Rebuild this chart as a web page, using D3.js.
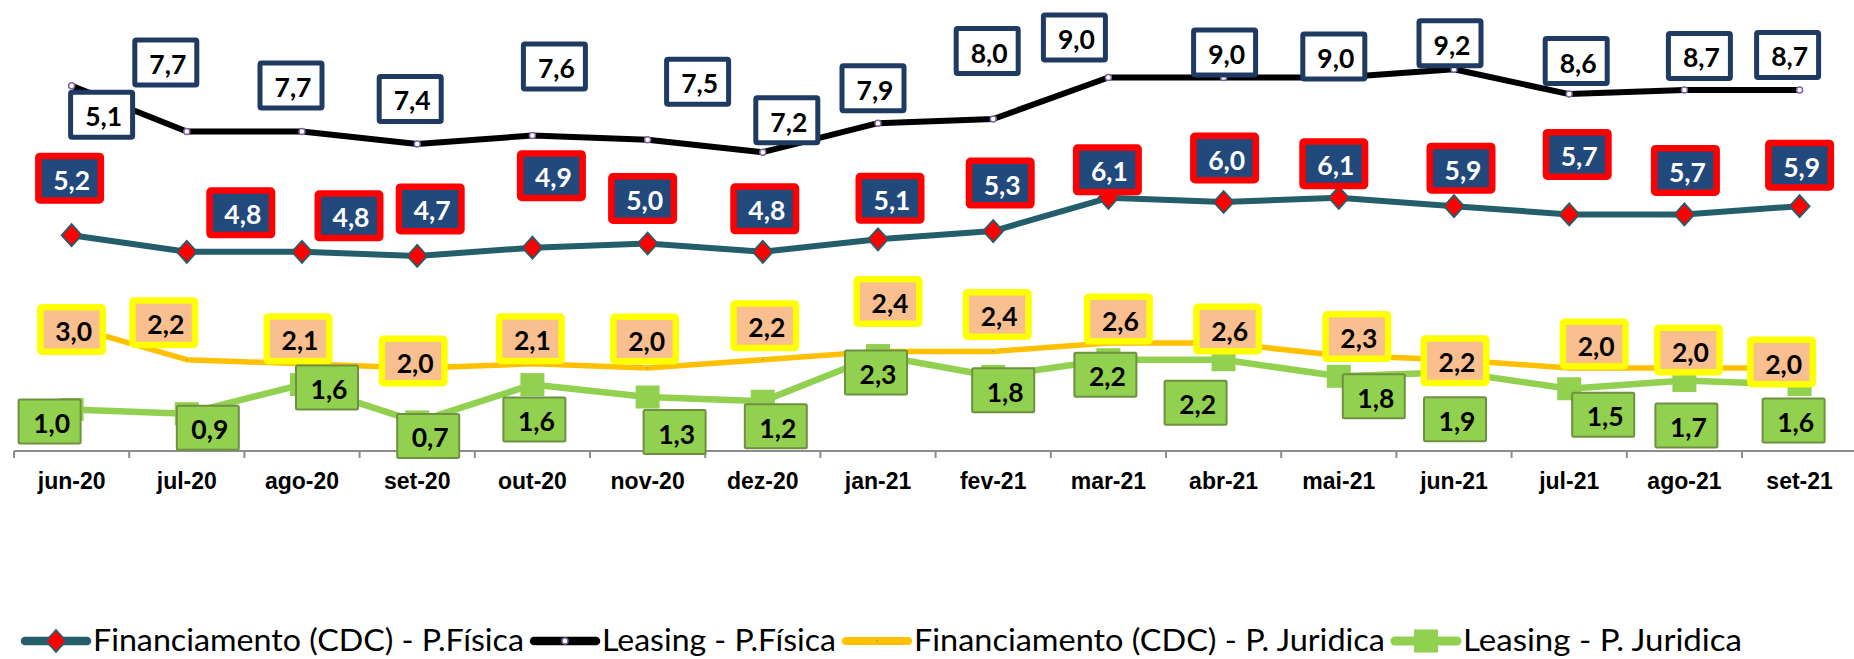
<!DOCTYPE html>
<html>
<head>
<meta charset="utf-8">
<script src="https://cdn.jsdelivr.net/npm/d3@7"></script>
<style>
  html, body { margin: 0; padding: 0; background: #fff; overflow: hidden; }
  svg { display: block; }
</style>
</head>
<body>
<div id="chart"></div>
<script>
// data
const months = ["jun-20","jul-20","ago-20","set-20","out-20","nov-20","dez-20","jan-21",
                "fev-21","mar-21","abr-21","mai-21","jun-21","jul-21","ago-21","set-21"];
const seriesNames = ["Financiamento (CDC) - P.Física", "Leasing - P.Física",
                     "Financiamento (CDC) - P. Juridica", "Leasing - P. Juridica"];
const cdcPF     = [5.2, 4.8, 4.8, 4.7, 4.9, 5.0, 4.8, 5.1, 5.3, 6.1, 6.0, 6.1, 5.9, 5.7, 5.7, 5.9];
const leasingPF = [8.8, 7.7, 7.7, 7.4, 7.6, 7.5, 7.2, 7.9, 8.0, 9.0, 9.0, 9.0, 9.2, 8.6, 8.7, 8.7];
// the first leasing label in the source says 5,1 although the point sits near 8,8
const leasingPFLabels = ["5,1","7,7","7,7","7,4","7,6","7,5","7,2","7,9","8,0","9,0","9,0","9,0","9,2","8,6","8,7","8,7"];
const cdcPJ     = [3.0, 2.2, 2.1, 2.0, 2.1, 2.0, 2.2, 2.4, 2.4, 2.6, 2.6, 2.3, 2.2, 2.0, 2.0, 2.0];
const leasingPJ = [1.0, 0.9, 1.6, 0.7, 1.6, 1.3, 1.2, 2.3, 1.8, 2.2, 2.2, 1.8, 1.9, 1.5, 1.7, 1.6];

// label offsets (px from the point), manual placement like in the original
const offCdcPF = [[-2,-57],[54,-39],[47,-36],[13,-47],[19,-72],[-5,-45],[2,-43],[12,-41],
                  [7,-48],[-1,-28],[1,-44],[-5,-34],[7,-38],[8,-60],[1,-44],[0,-41]];
const offLeasingPF = [[30,29],[-21,-69],[-11,-46],[-7,-45],[22,-69],[50,-58],[24,-32],[-5,-35],
                      [-6,-68],[-34,-40],[1,-25],[-5,-21],[-4,-26],[7,-33],[15,-34],[-12,-35]];
const offCdcPJ = [[0,3],[-23,-37],[-4,-25],[-4,-7],[-2,-25],[-3,-29],[2,-34],[10,-50],
                  [4,-37],[10,-24],[4,-14],[18,-19],[1,1],[25,-24],[4,-18],[-18,-6]];
const offLeasingPJ = [[-22,12],[21,14],[25,3],[11,14],[2,35],[27,35],[13,25],[-2,17],
                      [10,14],[-3,15],[-28,43],[35,20],[1,47],[34,26],[2,45],[-6,36]];

const W = 1854, H = 659;
const fmt = v => v.toFixed(1).replace(".", ",");

const svg = d3.select("#chart").append("svg")
  .attr("width", W).attr("height", H);

//scales
const x = d3.scaleBand().domain(months).range([14, 14 + 16 * 115.2]).padding(0);
const cx = m => x(m) + x.bandwidth() / 2;
const y = d3.scaleLinear().domain([0, 10]).range([451, 36]);

//axis
const axis = d3.axisBottom(x).tickSize(0).tickSizeOuter(0).tickPadding(0);
const axisG = svg.append("g").attr("transform", "translate(0," + y(0) + ")").call(axis);
axisG.select(".domain").attr("stroke", "#8c8c8c").attr("stroke-width", 2)
  .attr("d", "M14,0H" + W);
axisG.selectAll(".tick text")
  .attr("y", 38).attr("dy", 0)
  .attr("font-family", "'Liberation Sans', Arial, sans-serif")
  .attr("font-weight", "bold").attr("font-size", 23).attr("fill", "#000");
// ticks between categories
svg.append("g").selectAll("line")
  .data(months)
  .join("line")
  .attr("x1", d => x(d)).attr("x2", d => x(d))
  .attr("y1", y(0)).attr("y2", y(0) + 7)
  .attr("stroke", "#8c8c8c").attr("stroke-width", 2);

const series = [
  {name: seriesNames[0], values: cdcPF, color: "#245e6b", width: 6, marker: "diamond", off: offCdcPF,
   box: {fill: "#21497b", stroke: "#ff0000", sw: 6.5, w: 62.5, h: 44.5, text: "#fff"}},
  {name: seriesNames[1], values: leasingPF, color: "#000", width: 6, marker: "circle", off: offLeasingPF,
   labels: leasingPFLabels,
   box: {fill: "#fff", stroke: "#1f3a63", sw: 5, w: 62, h: 45, text: "#000"}},
  {name: seriesNames[2], values: cdcPJ, color: "#ffc000", width: 5.5, marker: "dot", off: offCdcPJ,
   box: {fill: "#f9bf8f", stroke: "#ffff00", sw: 6.5, w: 62.5, h: 44.5, text: "#000"}},
  {name: seriesNames[3], values: leasingPJ, color: "#92d050", width: 6.5, marker: "square", off: offLeasingPJ,
   box: {fill: "#92d050", stroke: "#6f9040", sw: 2, w: 62, h: 44, text: "#000"}}
];

const line = d3.line().x(d => cx(d.m)).y(d => y(d.v));

function drawMarker(g, type, color) {
  if (type == "diamond") {
    g.append("path").attr("d", "M0,-11L10,0L0,11L-10,0Z")
      .attr("fill", "#ff0000").attr("stroke", color).attr("stroke-width", 1.8);
  } else if (type == "circle") {
    g.append("circle").attr("r", 3).attr("fill", "#fff")
      .attr("stroke", "#8064a2").attr("stroke-width", 1.5);
  } else if (type == "square") {
    g.append("rect").attr("x", -12).attr("y", -11.5).attr("width", 24).attr("height", 23)
      .attr("fill", "#92d050");
  } else {
    g.append("circle").attr("r", 0.8).attr("fill", "#4bacc6");
  }
}

//lines and markers
series.forEach(s => {
  const pts = months.map((m, i) => ({m: m, v: s.values[i]}));
  svg.append("path").datum(pts)
    .attr("d", line)
    .attr("fill", "none")
    .attr("stroke", s.color)
    .attr("stroke-width", s.width)
    .attr("stroke-linejoin", "round");
  svg.append("g").selectAll("g")
    .data(pts)
    .join("g")
    .attr("transform", d => "translate(" + cx(d.m) + "," + y(d.v) + ")")
    .each(function () { drawMarker(d3.select(this), s.marker, s.color); });
});

//data labels on top
series.forEach(s => {
  const b = s.box;
  const lab = svg.append("g").selectAll("g")
    .data(months.map((m, i) => ({m: m, v: s.values[i], i: i})))
    .join("g")
    .attr("transform", d => "translate(" + (cx(d.m) + s.off[d.i][0]) + "," + (y(d.v) + s.off[d.i][1]) + ")");
  lab.append("rect")
    .attr("x", -b.w / 2).attr("y", -b.h / 2)
    .attr("width", b.w).attr("height", b.h)
    .attr("rx", 1.5)
    .attr("fill", b.fill).attr("stroke", b.stroke).attr("stroke-width", b.sw);
  lab.append("text")
    .attr("x", 2).attr("y", 11.5)
    .attr("text-anchor", "middle")
    .attr("font-family", "Lato, 'Open Sans', sans-serif")
    .attr("font-weight", "bold").attr("font-size", 26.5)
    .attr("fill", b.text)
    .text(d => s.labels ? s.labels[d.i] : fmt(d.v));
});

//legend
const legendWidths = [431, 234, 471, 279];
const legY = 641;
let lx = 25;
series.forEach((s, i) => {
  const g = svg.append("g");
  g.append("line")
    .attr("x1", lx).attr("x2", lx + 62)
    .attr("y1", legY).attr("y2", legY)
    .attr("stroke", s.color).attr("stroke-width", s.width + 2.5)
    .attr("stroke-linecap", "round");
  const mg = g.append("g").attr("transform", "translate(" + (lx + 31) + "," + legY + ")");
  drawMarker(mg, s.marker, s.color);
  g.append("text")
    .attr("x", lx + 68).attr("y", legY + 10)
    .attr("font-family", "Lato, 'Open Sans', sans-serif")
    .attr("font-size", 30)
    .attr("fill", "#000")
    .attr("textLength", legendWidths[i])
    .attr("lengthAdjust", "spacingAndGlyphs")
    .text(s.name);
  lx += 68 + legendWidths[i] + 10;
});
</script>
</body>
</html>
